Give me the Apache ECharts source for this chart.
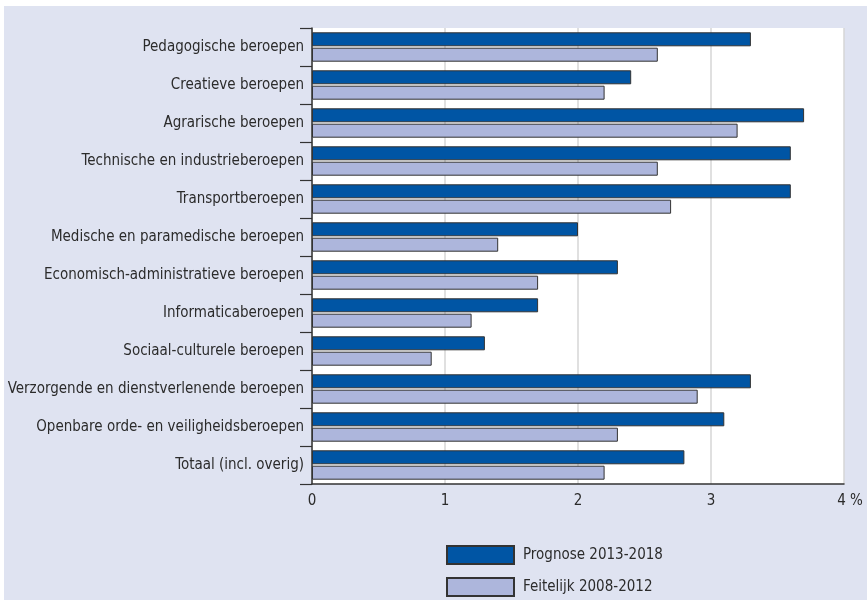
<!DOCTYPE html>
<html>
<head>
<meta charset="utf-8">
<script src="https://cdn.jsdelivr.net/npm/echarts@6/dist/echarts.min.js"></script>
<style>
html,body{margin:0;padding:0;background:#fff;width:867px;height:602px;overflow:hidden;}
#panel{position:absolute;left:4px;top:6px;width:863px;height:594px;background:#dfe3f1;}
#chart{position:absolute;left:0;top:0;width:867px;height:602px;}
</style>
</head>
<body>
<div id="panel"></div>
<div id="chart"></div>
<script>
const categories = [
  'Pedagogische beroepen',
  'Creatieve beroepen',
  'Agrarische beroepen',
  'Technische en industrieberoepen',
  'Transportberoepen',
  'Medische en paramedische beroepen',
  'Economisch-administratieve beroepen',
  'Informaticaberoepen',
  'Sociaal-culturele beroepen',
  'Verzorgende en dienstverlenende beroepen',
  'Openbare orde- en veiligheidsberoepen',
  'Totaal (incl. overig)'
];
const prognose = [3.3, 2.4, 3.7, 3.6, 3.6, 2.0, 2.3, 1.7, 1.3, 3.3, 3.1, 2.8];
const feitelijk = [2.6, 2.2, 3.2, 2.6, 2.7, 1.4, 1.7, 1.2, 0.9, 2.9, 2.3, 2.2];
const seriesNames = ['Prognose 2013-2018', 'Feitelijk 2008-2012'];
const xTicks = [0, 1, 2, 3, 4];

const FONT = '"Liberation Sans Narrow", "DejaVu Sans Condensed", "Noto Sans", sans-serif';
const TXT = '#2b2b2b';
const FS = 15;

const legendBase = {
  orient: 'vertical',
  left: 446,
  padding: 0,
  itemWidth: 67, itemHeight: 18, itemGap: 14,
  icon: 'rect',
  textStyle: {fontFamily: FONT, fontSize: FS, color: TXT, padding: [0, 0, 0, 4]},
  selectedMode: false
};

const chart = echarts.init(document.getElementById('chart'), null, {renderer: 'canvas'});
chart.setOption({
  backgroundColor: 'transparent',
  animation: false,
  textStyle: {fontFamily: FONT, color: TXT},
  grid: {
    left: 312, top: 28, right: 23, bottom: 118,
    show: true, backgroundColor: '#ffffff', borderWidth: 0,
    containLabel: false,
    outerBoundsMode: 'none'
  },
  legend: [
    Object.assign({}, legendBase, {top: 545, data: [seriesNames[0]]}),
    Object.assign({}, legendBase, {top: 577, data: [seriesNames[1]]})
  ],
  xAxis: {
    type: 'value',
    min: xTicks[0], max: xTicks[xTicks.length - 1], interval: 1,
    axisLine: {show: true, lineStyle: {color: '#333', width: 1.5}},
    axisTick: {show: false},
    splitLine: {show: true, lineStyle: {color: '#d6d6d6', width: 1.5}},
    axisLabel: {
      margin: 10,
      fontFamily: FONT, fontSize: FS, color: TXT,
      formatter: function (v) { return v === 4 ? '{p|' + v + ' %}' : String(v); },
      rich: {p: {fontFamily: FONT, fontSize: FS, color: TXT, padding: [0, 0, 0, 12]}}
    }
  },
  yAxis: {
    type: 'category',
    inverse: true,
    data: categories,
    axisLine: {show: true, lineStyle: {color: '#333', width: 1.5}},
    axisTick: {show: true, alignWithLabel: false, length: 12, lineStyle: {color: '#333', width: 1.2}},
    splitLine: {show: false},
    axisLabel: {margin: 8, fontFamily: FONT, fontSize: FS, color: TXT}
  },
  series: [
    {
      name: seriesNames[0], type: 'bar', data: prognose,
      barWidth: 14, barGap: '10%',
      itemStyle: {color: '#0055a4', borderColor: '#333', borderWidth: 1}
    },
    {
      name: seriesNames[1], type: 'bar', data: feitelijk,
      barWidth: 14, barGap: '10%',
      itemStyle: {color: '#adb6dc', borderColor: '#333', borderWidth: 1}
    }
  ]
});
</script>
</body>
</html>
